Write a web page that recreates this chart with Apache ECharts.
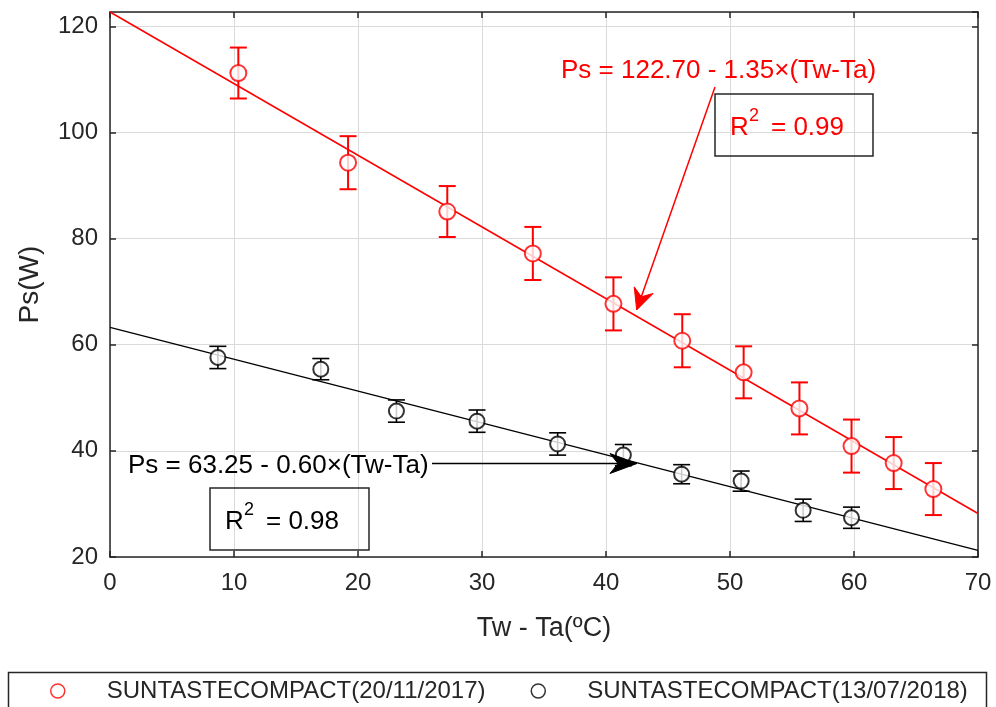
<!DOCTYPE html>
<html><head><meta charset="utf-8">
<script src="https://cdn.jsdelivr.net/npm/echarts@6/dist/echarts.min.js"></script>
<style>html,body{margin:0;padding:0;background:#fff}#c{width:996px;height:707px}</style>
</head><body><div id="c"></div>
<script>
// ---- data ----
const seriesNames = ['SUNTASTECOMPACT(20/11/2017)', 'SUNTASTECOMPACT(13/07/2018)'];
const redX   = [10.35, 19.2, 27.2, 34.1, 40.6, 46.15, 51.1, 55.6, 59.8, 63.2, 66.4];
const redY   = [111.2, 94.3, 85.1, 77.2, 67.7, 60.75, 54.8, 48.0, 40.9, 37.7, 32.8];
const redErr = [4.8, 5.0, 4.8, 5.0, 5.0, 5.0, 4.9, 4.9, 5.0, 4.9, 4.9];
const blackX   = [8.7, 17.0, 23.1, 29.6, 36.1, 41.4, 46.1, 50.9, 55.9, 59.8];
const blackY   = [57.6, 55.4, 47.5, 45.6, 41.3, 39.2, 35.6, 34.3, 28.8, 27.4];
const blackErr = [2.1, 2.0, 2.1, 2.1, 2.1, 2.0, 1.8, 1.9, 2.1, 2.0];
const fitIntercepts = [122.70, 63.25];
const fitSlopes = [-1.35, -0.60];
const fitLabels = ['Ps = 122.70 - 1.35×(Tw-Ta)', 'Ps = 63.25 - 0.60×(Tw-Ta)'];
const r2Labels = ['0.99', '0.98'];
const xRange = [0, 70];
const yRange = [20, 122.7];

// ---- chart ----
const FONT = '"Liberation Sans", Arial, Helvetica, sans-serif';
const AX = '#262626';
const RED = '#ff0000';
const BLK = '#000000';
const chart = echarts.init(document.getElementById('c'), null, {renderer: 'canvas'});

function pts(xs, ys) { return xs.map((x, i) => [x, ys[i]]); }
function errs(xs, ys, es) { return xs.map((x, i) => [x, ys[i] - es[i], ys[i] + es[i]]); }
function fitLine(k) { return xRange.map(x => [x, fitIntercepts[k] + fitSlopes[k] * x]); }

function errRender(color, width) {
  return function (params, api) {
    const x = api.value(0);
    const lo = api.coord([x, api.value(1)]);
    const hi = api.coord([x, api.value(2)]);
    const hw = 8.5;
    const st = {stroke: color, lineWidth: width};
    return {type: 'group', children: [
      {type: 'line', shape: {x1: lo[0], y1: lo[1], x2: hi[0], y2: hi[1]}, style: st},
      {type: 'line', shape: {x1: lo[0] - hw, y1: lo[1], x2: lo[0] + hw, y2: lo[1]}, style: st},
      {type: 'line', shape: {x1: hi[0] - hw, y1: hi[1], x2: hi[0] + hw, y2: hi[1]}, style: st}
    ]};
  };
}

function arrow(tail, tip, color, headLen, halfW, notch) {
  const dx = tip[0] - tail[0], dy = tip[1] - tail[1];
  const L = Math.hypot(dx, dy), ux = dx / L, uy = dy / L, nx = -uy, ny = ux;
  const bx = tip[0] - headLen * ux, by = tip[1] - headLen * uy;
  const mx = tip[0] - notch * ux, my = tip[1] - notch * uy;
  return [
    {type: 'polyline', shape: {points: [tail, [mx, my]]}, style: {stroke: color, lineWidth: 1.5, fill: null}, z: 50},
    {type: 'polygon', shape: {points: [tip, [bx + halfW * nx, by + halfW * ny], [mx, my], [bx - halfW * nx, by - halfW * ny]]},
      style: {fill: color, stroke: color, lineWidth: 1}, z: 50}
  ];
}

function txt(x, y, text, size, color, va) {
  return {type: 'text', x: x, y: y, z: 60,
    style: {text: text, font: size + 'px ' + FONT, fill: color, align: 'left', verticalAlign: va || 'middle',
      textAlign: 'left', textVerticalAlign: va || 'middle'}};
}

function r2Box(x, y, w, h, color, val) {
  return [
    {type: 'rect', shape: {x: x, y: y, width: w, height: h}, style: {fill: null, stroke: AX, lineWidth: 1.5}, z: 55},
    txt(x + 15, y + 34, 'R', 26, color),
    txt(x + 34, y + 22, '2', 18, color),
    txt(x + 56, y + 34, '= ' + val, 26, color)
  ];
}

const axisCommon = {
  type: 'value',
  axisLine: {show: true, onZero: false, lineStyle: {color: AX, width: 1.5}},
  axisTick: {show: true, inside: true, length: 6, lineStyle: {color: AX, width: 1.5}},
  splitLine: {show: false},
};

const option = {
  backgroundColor: '#fff',
  animation: false,
  grid: {left: 110, right: 18, top: 12, bottom: 150, show: false},
  xAxis: [
    Object.assign({}, axisCommon, {
      position: 'bottom', min: xRange[0], max: xRange[1], interval: 10,
      axisLabel: {fontSize: 24, color: AX, fontFamily: FONT, margin: 14},
      splitLine: {show: true, lineStyle: {color: '#dadada', width: 1}},
      name: 'Tw - Ta(ºC)', nameLocation: 'middle', nameGap: 58,
      nameTextStyle: {fontSize: 27, color: AX, fontFamily: FONT}
    }),
    Object.assign({}, axisCommon, {
      position: 'top', min: xRange[0], max: xRange[1], interval: 10, axisLabel: {show: false}
    })
  ],
  yAxis: [
    Object.assign({}, axisCommon, {
      position: 'left', min: yRange[0], max: yRange[1], interval: 20,
      axisLabel: {fontSize: 24, color: AX, fontFamily: FONT, margin: 12, showMaxLabel: false},
      splitLine: {show: true, lineStyle: {color: '#dadada', width: 1}},
      name: 'Ps(W)', nameLocation: 'middle', nameGap: 66,
      nameTextStyle: {fontSize: 28, color: AX, fontFamily: FONT}
    }),
    Object.assign({}, axisCommon, {
      position: 'right', min: yRange[0], max: yRange[1], interval: 20, axisLabel: {show: false}
    })
  ],
  legend: {
    left: 50, top: 679, padding: 0, itemGap: 45, itemWidth: 14, itemHeight: 14,
    textStyle: {fontSize: 24, color: AX, fontFamily: FONT, padding: [0, 0, 0, 37]},
    data: [
      {name: seriesNames[0], icon: 'circle', itemStyle: {color: '#fff', borderColor: RED, borderWidth: 1.5}},
      {name: seriesNames[1], icon: 'circle', itemStyle: {color: '#fff', borderColor: BLK, borderWidth: 1.5}}
    ],
    selectedMode: false
  },
  series: [
    {name: 'fit1', type: 'line', data: fitLine(0), showSymbol: false, silent: true,
      lineStyle: {color: RED, width: 1.5}, z: 2},
    {name: 'fit2', type: 'line', data: fitLine(1), showSymbol: false, silent: true,
      lineStyle: {color: BLK, width: 1.3}, z: 2},
    {name: 'err1', type: 'custom', data: errs(redX, redY, redErr), renderItem: errRender(RED, 2),
      encode: {x: 0, y: [1, 2]}, z: 3, silent: true},
    {name: 'err2', type: 'custom', data: errs(blackX, blackY, blackErr), renderItem: errRender(BLK, 1.6),
      encode: {x: 0, y: [1, 2]}, z: 3, silent: true},
    {name: seriesNames[0], type: 'scatter', data: pts(redX, redY), symbol: 'emptyCircle', symbolSize: 16,
      itemStyle: {color: RED, borderColor: RED, borderWidth: 1.5}, z: 4},
    {name: seriesNames[1], type: 'scatter', data: pts(blackX, blackY), symbol: 'emptyCircle', symbolSize: 15,
      itemStyle: {color: BLK, borderColor: BLK, borderWidth: 1.3}, z: 4}
  ],
  graphic: [].concat(
    [txt(561, 71, fitLabels[0], 26, RED)],
    arrow([715, 87], [636.7, 310], RED, 21, 10, 14),
    r2Box(715, 94, 158, 62, RED, r2Labels[0]),
    [txt(128, 466, fitLabels[1], 26, BLK)],
    arrow([432, 463.5], [637, 463.5], BLK, 27, 10, 19),
    r2Box(210, 488, 159, 62, BLK, r2Labels[1]),
    [{type: 'rect', shape: {x: 8.5, y: 672.5, width: 978, height: 60}, style: {fill: null, stroke: AX, lineWidth: 1.5}, z: 40}]
  )
};
chart.setOption(option);
</script>
</body></html>
